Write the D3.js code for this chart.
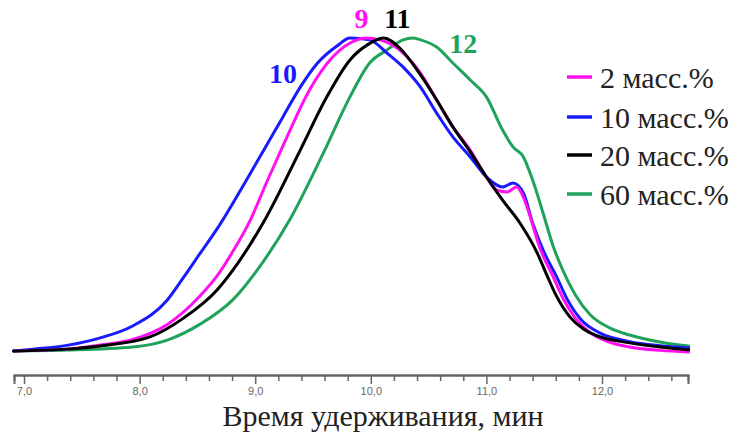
<!DOCTYPE html>
<html>
<head>
<meta charset="utf-8">
<script src="https://cdn.jsdelivr.net/npm/d3@7"></script>
<style>
  html, body { margin: 0; padding: 0; background: #fff; }
  svg { display: block; }
</style>
</head>
<body>
<svg id="chart" width="732" height="432"></svg>
<script>
// Normalised chromatograms (retention time, min → relative signal)
const seriesNames = ["2 масс.%", "10 масс.%", "20 масс.%", "60 масс.%"];
const seriesColors = ["#ff10f0", "#1a1aff", "#000000", "#1fa25a"];

const timeMagenta = [6.91, 7.37, 7.66, 7.94, 8.24, 8.52, 8.67, 8.81, 8.96, 9.1, 9.24, 9.47, 9.67, 9.88, 9.95, 10.08, 10.28, 10.43, 10.57, 10.71, 10.86, 11.0, 11.09, 11.18, 11.26, 11.32, 11.38, 11.46, 11.58, 11.66, 11.77, 11.9, 12.05, 12.25, 12.5, 12.75];
const signalMagenta = [0, 0.006, 0.019, 0.037, 0.085, 0.175, 0.24, 0.32, 0.42, 0.54, 0.655, 0.834, 0.939, 0.994, 1.0, 0.994, 0.952, 0.888, 0.802, 0.716, 0.642, 0.556, 0.514, 0.508, 0.524, 0.492, 0.428, 0.332, 0.235, 0.17, 0.105, 0.058, 0.03, 0.012, 0.002, -0.003];

const timeBlue = [6.91, 7.08, 7.37, 7.66, 7.94, 8.24, 8.38, 8.52, 8.67, 8.96, 9.24, 9.39, 9.54, 9.71, 9.82, 9.99, 10.14, 10.28, 10.43, 10.57, 10.71, 10.86, 11.0, 11.14, 11.23, 11.32, 11.4, 11.49, 11.61, 11.7, 11.82, 11.98, 12.24, 12.5, 12.75];
const signalBlue = [0, 0.006, 0.018, 0.042, 0.08, 0.163, 0.235, 0.31, 0.39, 0.569, 0.748, 0.843, 0.92, 0.975, 1.0, 0.994, 0.952, 0.907, 0.843, 0.76, 0.684, 0.62, 0.556, 0.524, 0.537, 0.505, 0.409, 0.323, 0.235, 0.165, 0.1, 0.058, 0.03, 0.017, 0.01];

const timeBlack = [6.91, 7.37, 7.66, 8.09, 8.38, 8.67, 8.81, 9.1, 9.39, 9.62, 9.82, 9.97, 10.11, 10.25, 10.43, 10.57, 10.71, 10.86, 11.0, 11.14, 11.29, 11.44, 11.52, 11.6, 11.72, 11.84, 11.96, 12.24, 12.5, 12.75];
const signalBlack = [0, 0.006, 0.016, 0.045, 0.105, 0.195, 0.26, 0.43, 0.642, 0.812, 0.93, 0.978, 1.0, 0.968, 0.882, 0.802, 0.716, 0.636, 0.556, 0.482, 0.409, 0.313, 0.245, 0.18, 0.11, 0.07, 0.048, 0.026, 0.013, 0.004];

const timeGreen = [6.91, 7.37, 7.94, 8.24, 8.52, 8.81, 9.02, 9.3, 9.59, 9.82, 9.99, 10.14, 10.28, 10.36, 10.43, 10.57, 10.71, 10.86, 11.0, 11.14, 11.23, 11.32, 11.4, 11.49, 11.58, 11.66, 11.77, 11.9, 12.07, 12.24, 12.5, 12.75];
const signalGreen = [0, 0.003, 0.013, 0.035, 0.085, 0.165, 0.26, 0.42, 0.633, 0.812, 0.92, 0.962, 0.994, 1.0, 0.994, 0.971, 0.92, 0.866, 0.812, 0.706, 0.652, 0.62, 0.546, 0.441, 0.332, 0.259, 0.179, 0.115, 0.073, 0.051, 0.029, 0.016];

// Peak numbers written next to the maxima
const peakLabels = ["9", "10", "11", "12"];
const peakSeries = [0, 1, 2, 3];

const majorTicks = [7, 8, 9, 10, 11, 12];
const minorTicks = d3.range(7, 12.61, 0.2).map(v => +v.toFixed(1));
const axisTitle = "Время удерживания, мин";

// A single named face each, so Cyrillic glyphs stay in the serif
const SERIF = '"Times New Roman"';
const SANS = '"Liberation Sans"';

const series = [
  { name: seriesNames[0], color: seriesColors[0], t: timeMagenta, s: signalMagenta },
  { name: seriesNames[1], color: seriesColors[1], t: timeBlue, s: signalBlue },
  { name: seriesNames[2], color: seriesColors[2], t: timeBlack, s: signalBlack },
  { name: seriesNames[3], color: seriesColors[3], t: timeGreen, s: signalGreen }
];

const svg = d3.select("#chart");

const x = d3.scaleLinear().domain([6.9135, 12.744]).range([14, 688]);
const y = d3.scaleLinear().domain([0, 1]).range([351, 38]);
const axisY = 375;

const line = d3.line()
  .x(d => x(d[0]))
  .y(d => y(d[1]))
  .curve(d3.curveMonotoneX);

const drawOrder = [3, 1, 0, 2];
svg.append("g")
  .selectAll("path")
  .data(drawOrder.map(i => series[i]))
  .join("path")
  .attr("d", d => line(d.t.map((t, k) => [t, d.s[k]])))
  .attr("fill", "none")
  .attr("stroke", d => d.color)
  .attr("stroke-width", 3)
  .attr("stroke-linejoin", "round")
  .attr("stroke-linecap", "round");

// X axis: minor ticks every 0.2 min, labelled majors every minute
const fmt = v => d3.format(".1f")(v).replace(".", ",");

const minorAxis = d3.axisBottom(x)
  .tickValues(minorTicks.filter(v => !majorTicks.some(m => Math.abs(m - v) < 1e-6)))
  .tickSize(6)
  .tickFormat("");
const gMinor = svg.append("g")
  .attr("transform", `translate(0,${axisY})`)
  .call(minorAxis);

const majorAxis = d3.axisBottom(x)
  .tickValues(majorTicks)
  .tickSize(9)
  .tickPadding(3)
  .tickFormat(fmt);
const gMajor = svg.append("g")
  .attr("transform", `translate(0,${axisY})`)
  .call(majorAxis);

[gMinor, gMajor].forEach(g => {
  g.select(".domain").attr("stroke", "#666").attr("stroke-width", 2);
  g.selectAll(".tick line").attr("stroke", "#666").attr("stroke-width", 1.5);
});
gMajor.attr("font-family", null).attr("font-size", null);
gMajor.selectAll(".tick text")
  .attr("fill", "#666")
  .style("font-family", SANS)
  .style("font-size", "11px");

svg.append("text")
  .attr("x", 383)
  .attr("y", 426)
  .attr("text-anchor", "middle")
  .style("font-family", SERIF)
  .style("font-size", "30px")
  .attr("fill", "#222")
  .text(axisTitle);

// Peak numbers
const peakPos = [
  { t: 9.92, s: 1.032 },
  { t: 9.24, s: 0.856 },
  { t: 10.23, s: 1.032 },
  { t: 10.80, s: 0.952 }
];
svg.append("g")
  .selectAll("text")
  .data(peakLabels)
  .join("text")
  .attr("x", (d, i) => x(peakPos[i].t))
  .attr("y", (d, i) => y(peakPos[i].s))
  .attr("text-anchor", "middle")
  .style("font-family", SERIF)
  .style("font-weight", "bold")
  .style("font-size", "28px")
  .attr("fill", (d, i) => series[peakSeries[i]].color)
  .text(d => d);

// Legend
const legend = svg.append("g").attr("transform", "translate(567,0)");
const rowY = [77, 117, 155, 194];
series.forEach((s, i) => {
  legend.append("line")
    .attr("x1", 0).attr("x2", 25)
    .attr("y1", rowY[i]).attr("y2", rowY[i])
    .attr("stroke", s.color)
    .attr("stroke-width", 3.5);
  legend.append("text")
    .attr("x", 33)
    .attr("y", rowY[i])
    .attr("dy", "0.35em")
    .style("font-family", SERIF)
    .style("font-size", "30px")
    .attr("fill", "#222")
    .text(s.name);
});
</script>
</body>
</html>
